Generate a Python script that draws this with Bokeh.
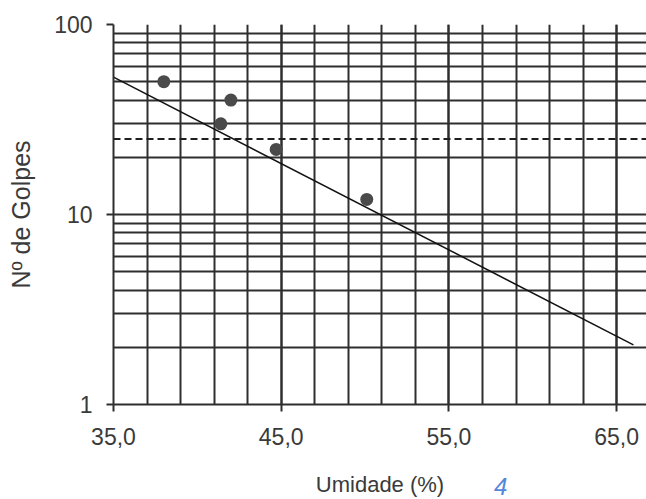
from bokeh.plotting import figure
from bokeh.models import FixedTicker, Span, Range1d, Div
from bokeh.layouts import column
from bokeh.embed import file_html
from bokeh.resources import INLINE

# Data
umidade = [38.0, 41.4, 42.0, 44.7, 50.1]
golpes = [50, 30, 40, 22, 12]
trend_umidade = [35.0, 66.0]
trend_golpes = [52.8, 2.06]
ref_golpes = 25
x_major = [35, 45, 55, 65]
x_labels = ["35,0", "45,0", "55,0", "65,0"]
x_minor = list(range(35, 67, 2))
y_major = [1, 10, 100]
y_labels = ["1", "10", "100"]
y_minor = [2, 3, 4, 5, 6, 7, 8, 9, 20, 30, 40, 50, 60, 70, 80, 90]
mark_text = "4"

FONT = "Liberation Sans"
TXT = "#3a3a3a"
GRID = "#2e2e2e"

p = figure(width=646, height=499, output_backend="svg", toolbar_location=None,
           y_axis_type="log",
           x_range=Range1d(35, 66.78), y_range=Range1d(1, 100),
           min_border_left=113, min_border_right=0, min_border_top=24, min_border_bottom=93)
p.outline_line_color = None
p.background_fill_color = "white"

xt = FixedTicker(ticks=x_major, minor_ticks=x_minor)
yt = FixedTicker(ticks=y_major, minor_ticks=y_minor)
p.xaxis.ticker = xt
p.yaxis.ticker = yt
p.xgrid.ticker = xt
p.ygrid.ticker = yt
p.xaxis.major_label_overrides = dict(zip(x_major, x_labels))
p.yaxis.major_label_overrides = dict(zip(y_major, y_labels))

for g in (p.xgrid, p.ygrid):
    g.grid_line_color = GRID
    g.grid_line_width = 2
    g.minor_grid_line_color = GRID
    g.minor_grid_line_width = 2

for ax in (p.xaxis, p.yaxis):
    ax.axis_line_color = GRID
    ax.axis_line_width = 2
    ax.major_tick_line_color = GRID
    ax.major_tick_line_width = 2
    ax.major_tick_in = 0
    ax.major_tick_out = 7
    ax.minor_tick_line_color = None
    ax.major_label_text_font = FONT
    ax.major_label_text_font_size = "23px"
    ax.major_label_text_color = TXT
    ax.axis_label_text_font = FONT
    ax.axis_label_text_font_style = "normal"
    ax.axis_label_text_color = TXT

p.xaxis.axis_label = "Umidade (%)"
p.yaxis.axis_label = "Nº de Golpes"
p.xaxis.axis_label_text_font_size = "22px"
p.yaxis.axis_label_text_font_size = "25px"
p.xaxis.major_label_standoff = 16
p.xaxis.axis_label_standoff = 24
p.yaxis.major_label_standoff = 14
p.yaxis.axis_label_standoff = 16

p.add_layout(Span(location=ref_golpes, dimension="width", line_color="#1e1e1e",
                  line_width=2, line_dash="7 4"))

p.line(trend_umidade, trend_golpes, line_color="#111111", line_width=1.5)
p.scatter(umidade, golpes, size=13, fill_color="#4a4a4a", line_color=None)

mark = Div(text=mark_text, width=24, height=24, margin=(-24, 0, 0, 494),
           styles={"color": "#5288d8", "font-style": "italic", "font-size": "24px",
                   "font-family": "Liberation Sans", "line-height": "24px",
                   "overflow": "visible"})

layout = column(p, mark, spacing=0)
open("out.html", "w").write(file_html(layout, INLINE))
